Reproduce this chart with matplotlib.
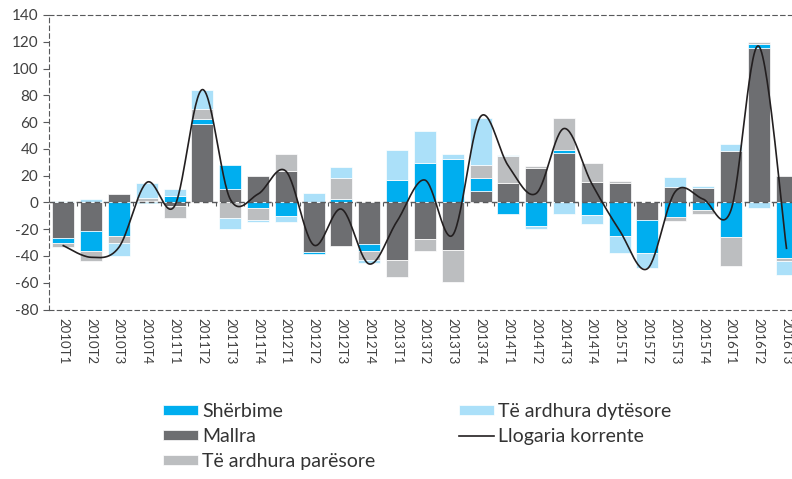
import numpy as np
import matplotlib.pyplot as plt

plt.rcParams['font.family'] = ['Lato', 'DejaVu Sans']

# te dhenat (lexuar nga grafiku), mld. euro
kategorite = ['2010T1', '2010T2', '2010T3', '2010T4', '2011T1', '2011T2', '2011T3',
              '2011T4', '2012T1', '2012T2', '2012T3', '2012T4', '2013T1', '2013T2',
              '2013T3', '2013T4', '2014T1', '2014T2', '2014T3', '2014T4', '2015T1',
              '2015T2', '2015T3', '2015T4', '2016T1', '2016T2', '2016T3']
mallra = [-26.3, -21.4, 6.2, 1.2, -2.5, 58.9, 9.9, 19.9, 23.4, -36.8, -32.3, -31.1, -43.0, -27.3,
          -35.3, 8.7, 14.7, 25.9, 36.8, 15.4, 14.4, -13.2, 11.7, 10.9, 38.5, 115.3, 19.9]
sherbime = [-4.0, -14.7, -24.9, -0.7, 4.5, 3.2, 17.9, -4.0, -10.2, -1.7, 2.5, -5.2, 16.7, 29.1,
            32.3, 9.4, -8.5, -17.6, 2.0, -9.4, -25.4, -24.9, -10.7, -5.7, -26.1, 3.2, -41.5]
paresore = [-3.2, -7.5, -5.2, 1.8, -9.0, 7.5, -11.9, -9.2, 12.7, 0.0, 15.9, -6.7, -12.9, -9.2,
            -24.4, 10.2, 20.1, 1.2, 24.6, 14.2, 1.5, 0.0, -3.2, -3.2, -21.4, 1.5, -2.0]
dytesore = [1.0, 2.2, -9.7, 11.7, 5.4, 14.7, -8.2, -1.2, -4.2, 7.2, 8.0, -2.5, 22.4, 23.9,
            3.5, 34.6, 0.7, -2.5, -8.7, -7.0, -12.2, -10.7, 7.5, 1.5, 5.5, -4.0, -10.9]
korrente = [-32.3, -41.0, -33.5, 14.9, -2.7, 84.3, 2.5, 6.2, 23.4, -31.8, -5.0, -46.0, -14.0, 16.7,
            -24.4, 64.1, 27.3, 6.7, 55.2, 14.0, -21.0, -49.5, 8.0, 2.5, -6.0, 116.8, -34.3]

ngjyra = {'Shërbime': '#00AEEF', 'Mallra': '#6D6E71',
          'Të ardhura parësore': '#BCBEC0', 'Të ardhura dytësore': '#ABE0F9'}
gri = '#58595B'


def smooth(xs, ys, n=30):
    # kurbe e lemuar si ne Excel (Bezier nga Catmull-Rom)
    p = np.column_stack([xs, ys])
    out = []
    t = np.linspace(0, 1, n)[:, None]
    for i in range(len(p) - 1):
        p0 = p[i - 1] if i > 0 else p[i]
        p3 = p[i + 2] if i + 2 < len(p) else p[i + 1]
        c1 = p[i] + (p[i + 1] - p0) / 6
        c2 = p[i + 1] - (p3 - p[i]) / 6
        seg = (1 - t)**3 * p[i] + 3 * (1 - t)**2 * t * c1 + 3 * (1 - t) * t**2 * c2 + t**3 * p[i + 1]
        out.append(seg if i == 0 else seg[1:])
    return np.vstack(out)


fig = plt.figure(figsize=(7.92, 4.79), dpi=100)
ax = fig.add_axes([49.4 / 792, 1 - 309.5 / 479, 751 / 792, 294.5 / 479])

x = np.arange(len(kategorite))
pos = np.zeros(len(x))
neg = np.zeros(len(x))
handles = {}
for label, vals in [('Mallra', mallra), ('Shërbime', sherbime),
                    ('Të ardhura parësore', paresore), ('Të ardhura dytësore', dytesore)]:
    v = np.array(vals)
    bottom = np.where(v >= 0, pos, neg)
    handles[label] = ax.bar(x, v, 0.79, bottom=bottom, color=ngjyra[label],
                            edgecolor='white', linewidth=0.5, label=label, zorder=2)
    pos += np.where(v >= 0, v, 0)
    neg += np.where(v < 0, v, 0)

ax.axhline(0, color=gri, lw=1.0, linestyle=(0, (4, 2.5)), zorder=3)
ax.vlines(x[:-1] + 0.5, -3, 0, colors=gri, lw=0.8, zorder=3)

curve = smooth(x, korrente)
line, = ax.plot(curve[:, 0], curve[:, 1], color='#231F20', lw=1.2, zorder=4,
                label='Llogaria korrente')

ax.set_xlim(-0.5, 26.5)
ax.set_ylim(-80, 140)
ax.set_yticks(range(-80, 141, 20))
ax.set_yticklabels([str(v) for v in range(-80, 141, 20)])
ax.set_xticks(x)
ax.set_xticklabels(kategorite, rotation=-90)
ax.tick_params(axis='y', direction='out', length=4, width=0.8, color=gri,
               labelsize=11, labelcolor='#404040', pad=4)
ax.tick_params(axis='x', length=0, labelsize=9.5, labelcolor='#404040', pad=6)
for s in ax.spines.values():
    s.set_linestyle((0, (4, 3)))
    s.set_color(gri)
    s.set_linewidth(0.8)

order = [handles['Shërbime'], handles['Mallra'], handles['Të ardhura parësore'],
         handles['Të ardhura dytësore'], line]
fig.legend(handles=order, labels=[h.get_label() for h in order], ncol=2,
           loc='upper left', bbox_to_anchor=(163 / 792, 1 - 403 / 479),
           frameon=False, fontsize=14, handlelength=1.8, handleheight=0.4,
           handletextpad=0.2, columnspacing=4.3, labelspacing=0.42,
           borderpad=0, borderaxespad=0, labelcolor='#333333')

fig.savefig('out.png', dpi=100)
